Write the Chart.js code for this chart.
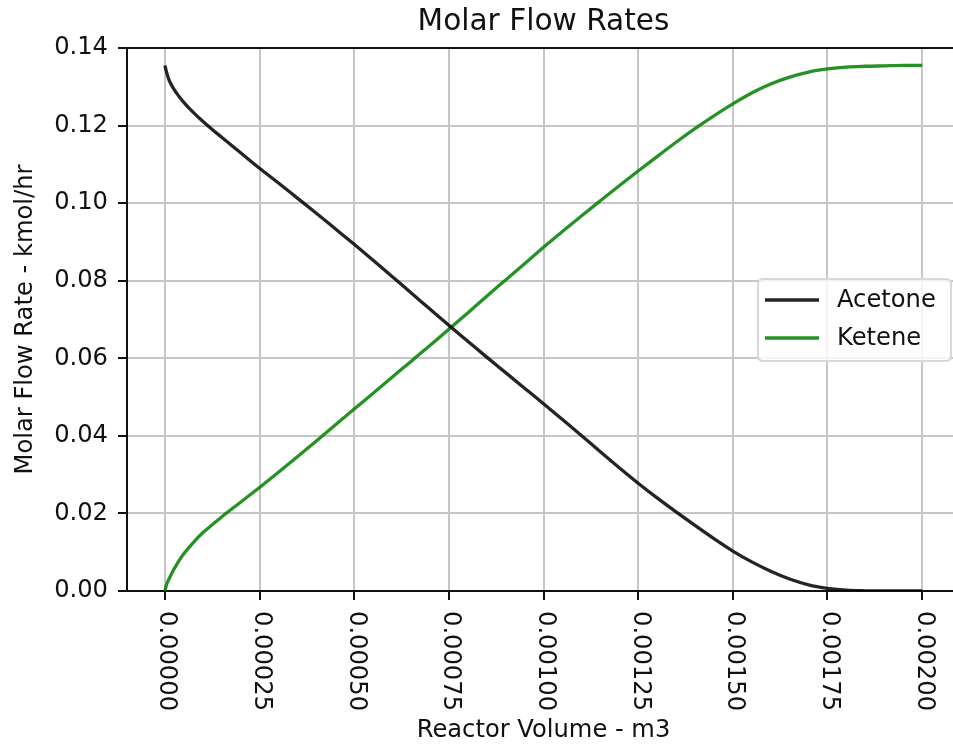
<!DOCTYPE html>
<html>
<head>
<meta charset="utf-8">
<script src="https://cdn.jsdelivr.net/npm/chart.js@4.4.1/dist/chart.umd.min.js"></script>
<style>
html,body{margin:0;padding:0;overflow:hidden;background:#fff;width:953px;height:745px}
#wrap{position:absolute;left:0;top:0;width:962px;height:745px}
</style>
</head>
<body>
<div id="wrap"><canvas id="c" width="962" height="745"></canvas></div>
<script>
// ---- data ----
const volumes = [0, 0.000005, 0.00001, 0.00002, 0.00003, 0.00004, 0.00005, 0.000075, 0.0001, 0.000125, 0.00015, 0.0002,
  0.00025, 0.0003, 0.00035, 0.0004, 0.00045, 0.0005, 0.00055, 0.0006, 0.00065, 0.0007, 0.00075,
  0.0008, 0.00085, 0.0009, 0.00095, 0.001, 0.00105, 0.0011, 0.00115, 0.0012, 0.00125,
  0.0013, 0.00135, 0.0014, 0.00145, 0.0015, 0.00155, 0.0016, 0.00165, 0.0017, 0.00175,
  0.0018, 0.00185, 0.0019, 0.00195, 0.002];
const acetone = [0.1355, 0.1336, 0.1320, 0.1300, 0.1285, 0.1272, 0.1260, 0.1234, 0.1211, 0.1190, 0.1170, 0.1130,
  0.1090, 0.1052, 0.1013, 0.0974, 0.0934, 0.0894, 0.0853, 0.0811, 0.0769, 0.0727, 0.0685,
  0.0644, 0.0603, 0.0563, 0.0523, 0.0483, 0.0442, 0.0401, 0.0359, 0.0318, 0.0278,
  0.0240, 0.0204, 0.0169, 0.0135, 0.0103, 0.0075, 0.0051, 0.0031, 0.0016, 0.0007,
  0.0002, 0.00005, 0.0000, 0.0000, 0.0000];
const ketene = [0.0000, 0.0018, 0.0029, 0.0049, 0.0066, 0.0082, 0.0096, 0.0125, 0.0150, 0.0171, 0.0191, 0.0229,
  0.0267, 0.0306, 0.0346, 0.0387, 0.0428, 0.0469, 0.0510, 0.0551, 0.0592, 0.0633, 0.0675,
  0.0717, 0.0760, 0.0802, 0.0844, 0.0886, 0.0927, 0.0967, 0.1006, 0.1045, 0.1083,
  0.1120, 0.1157, 0.1192, 0.1225, 0.1256, 0.1284, 0.1307, 0.1325, 0.1338, 0.1346,
  0.1351, 0.1353, 0.1354, 0.1355, 0.1355];
const seriesNames = ['Acetone', 'Ketene'];
const xTicks = [0, 0.00025, 0.0005, 0.00075, 0.001, 0.00125, 0.0015, 0.00175, 0.002];
const yTicks = [0, 0.02, 0.04, 0.06, 0.08, 0.10, 0.12, 0.14];
const xTickLabels = xTicks.map(v => v.toFixed(5));
const yTickLabels = yTicks.map(v => v.toFixed(2));
const titleText = 'Molar Flow Rates';
const xTitle = 'Reactor Volume - m3';
const yTitle = 'Molar Flow Rate - kmol/hr';

// ---- styles ----
const FONT = "'DejaVu Sans', 'Liberation Sans', sans-serif";
const TEXT = '#111';
const lineColors = ['rgba(0,0,0,0.86)', 'rgba(0,128,0,0.86)'];
const GRID = '#c6c6c6';
const TICK_SIZE = 24.2;

const rotatedXLabels = {
  id: 'rotatedXLabels',
  afterDraw(chart) {
    const ctx = chart.ctx, sx = chart.scales.x, a = chart.chartArea;
    ctx.save();
    ctx.fillStyle = TEXT;
    ctx.font = TICK_SIZE + "px " + FONT;
    ctx.textAlign = 'left';
    ctx.textBaseline = 'alphabetic';
    xTicks.forEach((v, i) => {
      const px = sx.getPixelForValue(v);
      ctx.save();
      ctx.translate(px - 4.5, a.bottom + 20);
      ctx.rotate(Math.PI / 2);
      ctx.fillText(xTickLabels[i], 0, 0);
      ctx.restore();
    });
    ctx.restore();
  }
};

const frameAndLegend = {
  id: 'frameAndLegend',
  afterDraw(chart) {
    const ctx = chart.ctx, a = chart.chartArea;
    ctx.save();
    // top and right spines
    ctx.strokeStyle = '#111';
    ctx.lineWidth = 2;
    ctx.beginPath();
    ctx.moveTo(a.left - 1, a.top);
    ctx.lineTo(a.right + 1, a.top);
    ctx.stroke();
    ctx.beginPath();
    ctx.moveTo(a.right, a.top);
    ctx.lineTo(a.right, a.bottom);
    ctx.stroke();
    // legend box
    const bx = 758, by = 279, bw = 193, bh = 82, r = 5;
    ctx.beginPath();
    ctx.moveTo(bx + r, by);
    ctx.lineTo(bx + bw - r, by);
    ctx.quadraticCurveTo(bx + bw, by, bx + bw, by + r);
    ctx.lineTo(bx + bw, by + bh - r);
    ctx.quadraticCurveTo(bx + bw, by + bh, bx + bw - r, by + bh);
    ctx.lineTo(bx + r, by + bh);
    ctx.quadraticCurveTo(bx, by + bh, bx, by + bh - r);
    ctx.lineTo(bx, by + r);
    ctx.quadraticCurveTo(bx, by, bx + r, by);
    ctx.closePath();
    ctx.fillStyle = 'rgba(255,255,255,0.8)';
    ctx.fill();
    ctx.strokeStyle = '#d8d8d8';
    ctx.lineWidth = 2;
    ctx.stroke();
    const rows = [300, 338];
    chart.data.datasets.forEach((ds, i) => {
      ctx.strokeStyle = ds.borderColor;
      ctx.lineWidth = 3.3;
      ctx.beginPath();
      ctx.moveTo(765, rows[i]);
      ctx.lineTo(819, rows[i]);
      ctx.stroke();
      ctx.fillStyle = TEXT;
      ctx.font = TICK_SIZE + "px " + FONT;
      ctx.textAlign = 'left';
      ctx.textBaseline = 'middle';
      ctx.fillText(ds.label, 837, rows[i] + 1);
    });
    ctx.restore();
  }
};

new Chart(document.getElementById('c'), {
  type: 'line',
  data: {
    datasets: seriesNames.map((name, k) => ({
      label: name,
      data: volumes.map((v, i) => ({ x: v, y: (k === 0 ? acetone : ketene)[i] })),
      borderColor: lineColors[k],
      backgroundColor: lineColors[k],
      borderWidth: 3.3,
      pointRadius: 0,
      fill: false,
      cubicInterpolationMode: 'monotone'
    }))
  },
  options: {
    responsive: false,
    animation: false,
    devicePixelRatio: 1,
    layout: { padding: { left: 0, right: 2, top: 0, bottom: 0 } },
    plugins: {
      legend: { display: false },
      tooltip: { enabled: false },
      title: {
        display: true, text: titleText, fullSize: false, color: TEXT,
        font: { family: FONT, size: 29.6, weight: 'normal' },
        padding: { top: 5, bottom: 7.5 }
      }
    },
    scales: {
      x: {
        type: 'linear', min: -0.0001, max: 0.0021,
        afterBuildTicks: s => { s.ticks = xTicks.map(v => ({ value: v })); },
        afterFit: s => { s.height = 154; },
        ticks: { display: false },
        grid: { color: GRID, lineWidth: 2, tickLength: 9, tickColor: '#111', tickWidth: 2 },
        border: { display: true, color: '#111', width: 2 },
        title: { display: true, text: xTitle, color: TEXT, font: { family: FONT, size: TICK_SIZE }, padding: { top: 0, bottom: 0 } }
      },
      y: {
        type: 'linear', min: 0, max: 0.14,
        afterBuildTicks: s => { s.ticks = yTicks.map(v => ({ value: v })); },
        afterFit: s => { s.width = 127; },
        ticks: { color: TEXT, font: { family: FONT, size: TICK_SIZE }, padding: 10, callback: (v, i) => yTickLabels[i] },
        grid: { color: GRID, lineWidth: 2, tickLength: 9, tickColor: '#111', tickWidth: 2 },
        border: { display: true, color: '#111', width: 2 },
        title: { display: true, text: yTitle, color: TEXT, font: { family: FONT, size: TICK_SIZE }, padding: { top: 11, bottom: 0 } }
      }
    }
  },
  plugins: [rotatedXLabels, frameAndLegend]
});
</script>
</body>
</html>
